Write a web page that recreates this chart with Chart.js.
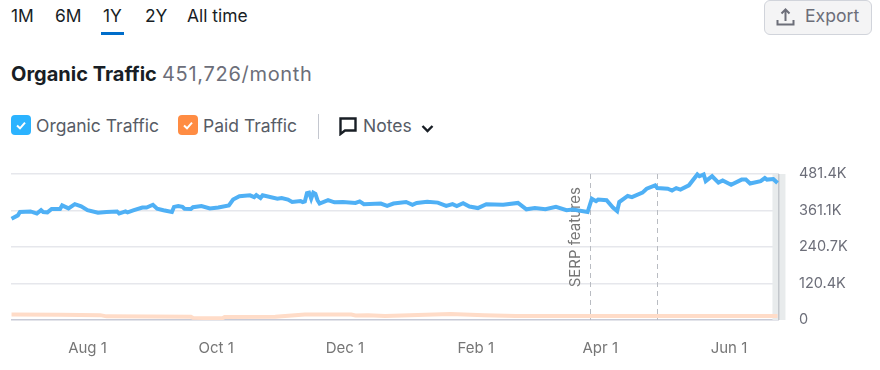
<!DOCTYPE html>
<html>
<head>
<meta charset="utf-8">
<script src="https://cdn.jsdelivr.net/npm/chart.js@4/dist/chart.umd.min.js"></script>
<style>
  html, body { margin: 0; padding: 0; background: #fff; }
  body { width: 880px; height: 370px; position: relative; overflow: hidden; font-family: Inter, sans-serif; }
  .t { position: absolute; white-space: nowrap; line-height: 20px; }
  .tab { top: 6px; font-size: 17.4px; color: #181e25; }
  .leg { top: 116px; font-size: 17.5px; color: #575c66; }
  .box { position: absolute; top: 115px; width: 20px; height: 20px; border-radius: 4px; }
  svg { position: absolute; }
  #chartArea { position: absolute; left: 0; top: 150px; width: 880px; height: 220px; }
  #chart1 { display: block; }
</style>
</head>
<body>
  <div class="t tab" style="left:11px">1M</div>
  <div class="t tab" style="left:55px">6M</div>
  <div class="t tab" style="left:103px">1Y</div>
  <div class="t tab" style="left:145px">2Y</div>
  <div class="t tab" style="left:187px">All time</div>
  <div style="position:absolute;left:101px;top:32px;width:23px;height:3px;background:#006dca"></div>

  <div class="t" style="left:11px;top:64px;font-size:20px;font-weight:700;color:#181e25">Organic Traffic</div>
  <div class="t" style="left:162px;top:64px;font-size:20px;letter-spacing:0.7px;color:#6c6e79">451,726/month</div>

  <div class="box" style="left:11px;background:#2bb3ff"></div>
  <svg style="left:11px;top:115px" width="20" height="20"><path d="M6 10.5l3 2.8 5-5.6" fill="none" stroke="#fff" stroke-width="2"/></svg>
  <div class="t leg" style="left:36px">Organic Traffic</div>
  <div class="box" style="left:178px;background:#ff8c43"></div>
  <svg style="left:178px;top:115px" width="20" height="20"><path d="M6 10.5l3 2.8 5-5.6" fill="none" stroke="#fff" stroke-width="2"/></svg>
  <div class="t leg" style="left:203px">Paid Traffic</div>
  <div style="position:absolute;left:318px;top:114px;width:1px;height:25px;background:#c4c7cf"></div>
  <svg style="left:339px;top:117px" width="19" height="19"><path d="M1.5 1.5h15v12H6l-4.500 3.500z" fill="none" stroke="#181e25" stroke-width="2.400"/></svg>
  <div class="t leg" style="left:363px">Notes</div>
  <svg style="left:421px;top:124px" width="13" height="10"><path d="M1.500 2l5 5 5-5" fill="none" stroke="#181e25" stroke-width="2.400"/></svg>

  <div style="position:absolute;left:764px;top:0;width:106px;height:33px;background:#f4f4f5;border:1px solid #d1d4db;border-radius:6px"></div>
  <svg style="left:776px;top:7px" width="19" height="20"><path d="M9.500 14V3M5.500 6.500l4-4 4 4M1.500 13v4.500h16V13" fill="none" stroke="#6c6e79" stroke-width="2"/></svg>
  <div class="t" style="left:805px;top:6px;font-size:17.6px;color:#6c6e79">Export</div>

  <div id="chartArea"><canvas id="chart1" width="880" height="220"></canvas></div>

<script>
// days counted from the left edge of the 1Y window
const organicDays = [1,4,5,10,13,15,16,18,20,24,25,28,31,34,37,42,46,51,52,55,56,59,63,65,68,70,73,77,78,80,82,83,86,87,91,95,99,104,106,109,114,116,117,119,120,127,129,132,134,138,139,140,141,142,143,144,145,146,147,151,154,158,164,166,168,176,179,182,188,191,193,198,203,207,210,212,215,218,222,226,234,241,245,249,254,259,264,267,274,276,278,279,283,286,288,289,293,295,300,302,306,307,312,314,316,318,322,326,327,329,330,333,336,338,342,347,349,351,356,358,359,362,364];
const organicValues = [334,345,356,358,351,362,356,355,366,366,378,368,382,375,362,354,356,358,351,358,355,362,371,371,380,367,362,356,373,376,373,367,366,372,376,368,371,378,397,408,411,405,412,402,411,400,402,397,389,392,389,391,418,420,400,420,416,395,384,395,388,389,386,391,382,384,376,384,389,380,386,390,387,376,382,376,385,374,369,382,380,386,365,369,365,373,362,364,356,400,392,397,395,371,359,389,409,405,420,433,444,435,433,427,435,430,444,480,474,480,458,474,453,460,446,463,463,450,458,468,463,465,452];
const paidDays = [1,24,43,46,86,87,101,102,126,140,162,164,170,178,209,225,240,364];
const paidValues = [18,17,16,12,11,7,6,10,11,18,18,15,16,13,20,16,13,13];

const yTicks = [0, 120.4, 240.7, 361.1, 481.4];
const xTickDays = [37, 98, 159, 221, 280, 341];
const xTickLabels = ['Aug 1', 'Oct 1', 'Dec 1', 'Feb 1', 'Apr 1', 'Jun 1'];
const noteDays = [275, 307];
const noteLabel = 'SERP features';
const firstDay = 0.75;
const lastDay = 364.7;
const bandStartDay = 361.6;

const toPoints = (days, values) => days.map((d, i) => ({ x: d, y: values[i] }));

// note lines, note label and the grey "incomplete data" band at the right
const notesPlugin = {
  id: 'notes',
  beforeDatasetsDraw(chart) {
    const { ctx, chartArea, scales } = chart;
    const bandX = scales.x.getPixelForValue(bandStartDay);
    ctx.save();
    ctx.fillStyle = '#e8ebec';
    ctx.fillRect(bandX, chartArea.top, 13, chartArea.height);
    ctx.fillStyle = '#c3c7cc';
    ctx.fillRect(chartArea.right - 1, chartArea.top, 1.5, chartArea.height);

    ctx.strokeStyle = '#b9bcc2';
    ctx.lineWidth = 1;
    ctx.setLineDash([5, 4]);
    noteDays.forEach((d) => {
      const x = Math.round(scales.x.getPixelForValue(d)) + 0.5;
      ctx.beginPath();
      ctx.moveTo(x, chartArea.top);
      ctx.lineTo(x, chartArea.bottom);
      ctx.stroke();
    });
    ctx.setLineDash([]);

    const noteX = scales.x.getPixelForValue(noteDays[0]) - 14;
    ctx.translate(noteX, chartArea.top + 13);
    ctx.rotate(-Math.PI / 2);
    ctx.fillStyle = '#767676';
    ctx.font = '15px Inter, sans-serif';
    ctx.textAlign = 'right';
    ctx.textBaseline = 'middle';
    ctx.fillText(noteLabel, 0, 0);
    ctx.restore();
  },
};

new Chart(document.getElementById('chart1').getContext('2d'), {
  type: 'line',
  data: {
    datasets: [
      {
        label: 'Paid Traffic',
        data: toPoints(paidDays, paidValues),
        borderColor: '#ffdcc8',
        borderWidth: 4,
        pointRadius: 0,
        tension: 0,
      },
      {
        label: 'Organic Traffic',
        data: toPoints(organicDays, organicValues),
        borderColor: '#4fb0f5',
        borderWidth: 4,
        pointRadius: 0,
        tension: 0,
        clip: false,
      },
    ],
  },
  options: {
    responsive: false,
    animation: false,
    layout: { autoPadding: false, padding: { left: 11, top: 24, right: 0, bottom: 0 } },
    plugins: { legend: { display: false }, tooltip: { enabled: false } },
    scales: {
      x: {
        type: 'linear',
        min: firstDay,
        max: lastDay,
        afterBuildTicks: (axis) => { axis.ticks = xTickDays.map((v) => ({ value: v })); },
        afterFit: (axis) => { axis.height = 50; },
        grid: { display: false },
        border: { display: false },
        ticks: {
          autoSkip: false,
          maxRotation: 0,
          padding: 11,
          color: '#767676',
          font: { family: 'Inter', size: 15 },
          callback: (v) => xTickLabels[xTickDays.indexOf(v)],
        },
      },
      y: {
        position: 'right',
        min: 0,
        max: 481.4,
        afterBuildTicks: (axis) => { axis.ticks = yTicks.map((v) => ({ value: v })); },
        afterFit: (axis) => { axis.width = 101; },
        grid: {
          // a big tick padding pushes the plot top down, so the gap is an invisible tick instead
          tickLength: 18,
          tickColor: 'rgba(0,0,0,0)',
          lineWidth: 1.5,
          color: (c) => (c.tick.value === 0 ? '#c8cad6' : '#e6e7ec'),
        },
        border: { display: false },
        ticks: {
          padding: 2,
          color: '#6c6e79',
          font: { family: 'Inter', size: 14.5 },
          callback: (v) => (v === 0 ? '0' : v + 'K'),
        },
      },
    },
  },
  plugins: [notesPlugin],
});
</script>
</body>
</html>
